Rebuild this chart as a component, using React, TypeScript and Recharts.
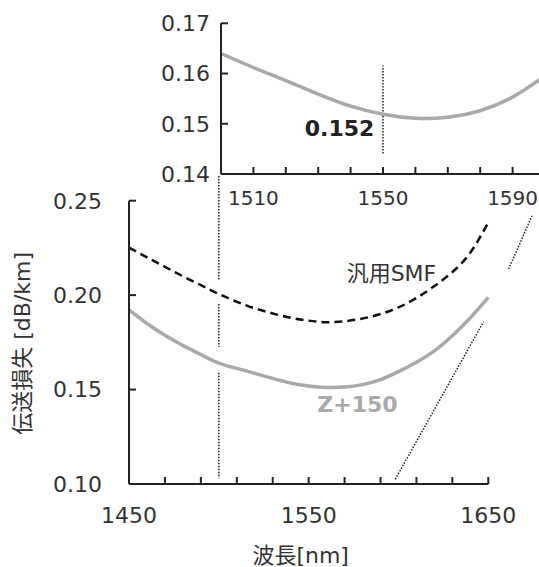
import React from 'react';
import { LineChart, Line, XAxis, YAxis, ReferenceLine, ReferenceDot, Label } from 'recharts';

// wavelength [nm] and loss [dB/km]
const wavelengths = [1450, 1460, 1470, 1480, 1490, 1500, 1510, 1520, 1530, 1540, 1550,
  1560, 1570, 1580, 1590, 1600, 1610, 1620, 1630, 1640, 1650];
const smfLoss = [0.2252, 0.2200, 0.2150, 0.2100, 0.2053, 0.2006, 0.1965, 0.1930, 0.1903, 0.1880, 0.1865,
  0.1857, 0.1862, 0.1876, 0.1900, 0.1935, 0.1985, 0.2048, 0.2122, 0.2225, 0.2385];
const z150Loss = [0.1922, 0.1850, 0.1787, 0.1733, 0.1685, 0.1640, 0.1612, 0.1586, 0.1559, 0.1535, 0.1519,
  0.1511, 0.1513, 0.1526, 0.1553, 0.1595, 0.1645, 0.1705, 0.1785, 0.1880, 0.1988];

const mainXTicks = [1450, 1470, 1490, 1510, 1530, 1550, 1570, 1590, 1610, 1630, 1650];
const mainXLabels = [1450, 1550, 1650];
const mainYTicks = [0.10, 0.15, 0.20, 0.25];

const insetXTicks = [1500, 1510, 1520, 1530, 1540, 1550, 1560, 1570, 1580, 1590, 1600];
const insetXLabels = [1510, 1550, 1590];
const insetYTicks = [0.14, 0.15, 0.16, 0.17];

const markWl = 1550;
const markValue = '0.152';

// zoom connector pieces (data units of the main chart)
const leftConnector = [[0.2631, 0.2080], [0.1953, 0.1727], [0.1589, 0.1030]];
const rightConnector = [
  [{ x: 1598.2, y: 0.1025 }, { x: 1647.4, y: 0.186 }],
  [{ x: 1661.3, y: 0.2138 }, { x: 1674.3, y: 0.242 }],
];

const data = wavelengths.map((wl, i) => ({ wl, smf: smfLoss[i], z150: z150Loss[i] }));
const insetData = data.filter((d) => d.wl >= 1500 && d.wl <= 1600);

const FONT = "'DejaVu Sans', 'Noto Sans CJK JP', sans-serif";
const GRAY = '#a9a9a9';
const INK = '#222';
const tickStyle = { fill: '#333', fontSize: 22, fontFamily: FONT };
const insetXTickStyle = { fill: '#333', fontSize: 20, fontFamily: FONT };
const axisStyle = { stroke: INK, strokeWidth: 2 };
const dotted = { stroke: INK, strokeWidth: 1.5, strokeDasharray: '1.5 1.5' };

const App = () => {
  return (
    <div style={{ position: 'absolute', left: 0, top: 0, width: 539, height: 567, overflow: 'hidden', background: '#fff' }}>
      <div style={{ position: 'absolute', left: 0, top: 0 }}>
        <LineChart width={539} height={567} data={data} margin={{ top: 200.7, right: 50.7, left: 69, bottom: 53 }}>
          <XAxis
            dataKey="wl"
            type="number"
            domain={[1450, 1650]}
            ticks={mainXTicks}
            tickFormatter={(v) => (mainXLabels.includes(v) ? String(v) : '')}
            height={30}
            tickSize={-7}
            tickMargin={30}
            tick={tickStyle}
            tickLine={axisStyle}
            axisLine={axisStyle}
          >
            <Label
              content={({ viewBox }: any) => (
                <text x={viewBox.x + viewBox.width / 2 - 8} y={viewBox.y + 71} textAnchor="middle"
                  dominantBaseline="central" fill="#333" fontSize={22} fontFamily={FONT}>波長[nm]</text>
              )}
            />
          </XAxis>
          <YAxis
            type="number"
            domain={[0.10, 0.25]}
            ticks={mainYTicks}
            tickFormatter={(v) => v.toFixed(2)}
            width={60}
            tickSize={-7}
            tickMargin={34}
            tick={tickStyle}
            tickLine={axisStyle}
            axisLine={axisStyle}
          >
            <Label
              content={({ viewBox }: any) => {
                const cx = viewBox.x - 46;
                const cy = viewBox.y + viewBox.height / 2 + 1;
                return (
                  <text x={cx} y={cy} transform={`rotate(-90 ${cx} ${cy})`} textAnchor="middle"
                    dominantBaseline="central" fill="#333" fontSize={22} fontFamily={FONT}>伝送損失 [dB/km]</text>
                );
              }}
            />
          </YAxis>
          {leftConnector.map(([y1, y2], i) => (
            <ReferenceLine key={`l${i}`} segment={[{ x: 1500, y: y1 }, { x: 1500, y: y2 }]} ifOverflow="visible" {...dotted} />
          ))}
          {rightConnector.map((seg, i) => (
            <ReferenceLine key={`r${i}`} segment={seg} ifOverflow="visible" {...dotted} />
          ))}
          <Line type="natural" dataKey="smf" stroke="#111" strokeWidth={2.5} strokeDasharray="8 5" dot={false} isAnimationActive={false} />
          <Line type="natural" dataKey="z150" stroke={GRAY} strokeWidth={3.5} dot={false} isAnimationActive={false} />
          <ReferenceDot x={1596.1} y={0.2117} r={1} fill="none" stroke="none" ifOverflow="visible"
            label={{ value: '汎用SMF', position: 'center', fill: '#333', fontSize: 22, fontFamily: FONT }} />
          <ReferenceDot x={1577.2} y={0.1425} r={1} fill="none" stroke="none" ifOverflow="visible"
            label={{ value: 'Z+150', position: 'center', fill: GRAY, fontSize: 22, fontWeight: 'bold', fontFamily: FONT }} />
        </LineChart>
      </div>
      <div style={{ position: 'absolute', left: 0, top: 0 }}>
        <LineChart width={600} height={230} data={insetData} margin={{ top: 23.3, right: 55, left: 161, bottom: 26 }}>
          <XAxis
            dataKey="wl"
            type="number"
            domain={[1500, 1600]}
            ticks={insetXTicks}
            tickFormatter={(v) => (insetXLabels.includes(v) ? String(v) : '')}
            height={30}
            tickSize={-7}
            tickMargin={24}
            tick={insetXTickStyle}
            tickLine={axisStyle}
            axisLine={axisStyle}
          />
          <YAxis
            type="number"
            domain={[0.14, 0.17]}
            ticks={insetYTicks}
            tickFormatter={(v) => v.toFixed(2)}
            width={60}
            tickSize={-7}
            tickMargin={18}
            tick={tickStyle}
            tickLine={axisStyle}
            axisLine={axisStyle}
          />
          <ReferenceLine segment={[{ x: markWl, y: 0.1441 }, { x: markWl, y: 0.1616 }]} ifOverflow="visible" {...dotted} />
          <Line type="natural" dataKey="z150" stroke={GRAY} strokeWidth={3.5} dot={false} isAnimationActive={false} />
          <ReferenceDot x={1536.6} y={0.1492} r={1} fill="none" stroke="none" ifOverflow="visible"
            label={{ value: markValue, position: 'center', fill: INK, fontSize: 22, fontWeight: 'bold', fontFamily: FONT }} />
        </LineChart>
      </div>
    </div>
  );
};

export default App;
